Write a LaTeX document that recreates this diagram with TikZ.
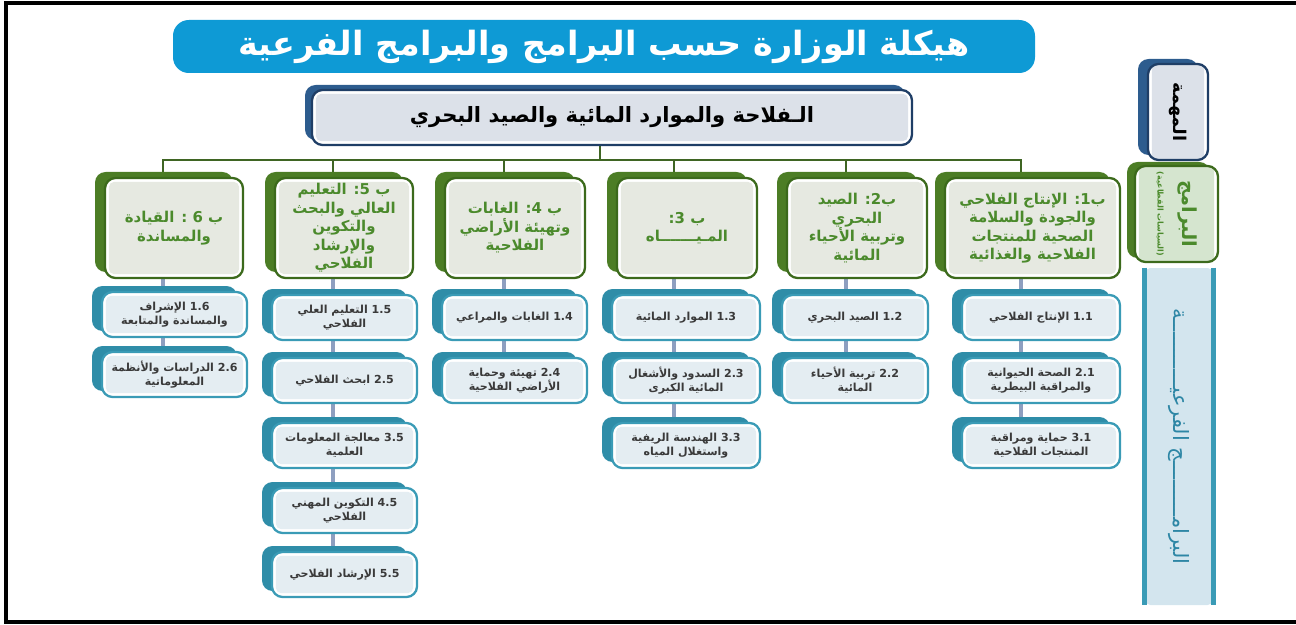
\documentclass[tikz,border=0pt]{standalone}
\usepackage{fontspec}
\newfontfamily\arabicfont[Script=Arabic]{DejaVu Sans}
\TeXXeTstate=1
\usetikzlibrary{calc,backgrounds}
\newcommand\ar[1]{\beginR #1\endR}
\newcommand\nm[1]{\beginL #1\endL{}}
\definecolor{titleblue}{HTML}{0E9AD5}
\definecolor{navy}{HTML}{1F3E66}
\definecolor{navyback}{HTML}{2D5C8E}
\definecolor{mainfill}{HTML}{DCE1E9}
\definecolor{gborder}{HTML}{3C6A1C}
\definecolor{gback}{HTML}{4C7D25}
\definecolor{gfill}{HTML}{E6E9E1}
\definecolor{gtext}{HTML}{4B8A2C}
\definecolor{tborder}{HTML}{3A9BB6}
\definecolor{tback}{HTML}{2F8DA8}
\definecolor{tfill}{HTML}{E4EDF2}
\definecolor{ttext}{HTML}{3A3A3A}
\definecolor{slinec}{HTML}{8E9FC0}
\definecolor{glinec}{HTML}{3F6523}
\definecolor{tallfill}{HTML}{D3E5EE}
\definecolor{rgfill}{HTML}{D5E5CF}
\definecolor{talltext}{HTML}{2D86A5}
\tikzset{
  framed/.style n args={3}{draw=#1, fill=white, line width=1.3pt, rounded corners=6pt, align=center,
    inner sep=0pt, outer sep=0pt,
    path picture={\fill[#2, rounded corners=3pt] ([shift={(2.2pt,2.2pt)}]path picture bounding box.south west) rectangle ([shift={(-2.2pt,-2.2pt)}]path picture bounding box.north east);},
    text=#3},
  progbox/.style={framed={gborder}{gfill}{gtext}, font=\arabicfont\bfseries\fontsize{8.5}{10.5}\selectfont},
  progback/.style={fill=gback, rounded corners=6pt, shift={(-10,-6)}},
  subbox/.style={framed={tborder}{tfill}{ttext}, font=\arabicfont\bfseries\fontsize{6.3}{8}\selectfont},
  subback/.style={fill=tback, rounded corners=6pt, shift={(-10,-6)}},
  mainbox/.style={framed={navy}{mainfill}{black}, font=\arabicfont\bfseries\fontsize{12}{14}\selectfont},
  mainback/.style={fill=navyback, rounded corners=6pt, shift={(-7,-5)}},
  gconn/.style={draw=glinec, line width=1.2pt},
  sconn/.style={draw=slinec, line width=2.4pt},
}
\newcommand\bx[8]{%
  \fill[#2] (#4,#5) rectangle (#6,#7);
  \node[#1, minimum width={(#6-#4)*0.02cm}, minimum height={(#7-#5)*0.02cm}] (#3) at ({(#4+#6)/2},{(#5+#7)/2}) {#8};}
\begin{document}
\begin{tikzpicture}[x=0.02cm,y=-0.02cm]
\useasboundingbox (0,0) rectangle (1296,625);
% frame
\draw[line width=2pt] (1296,3) -- (6,3) -- (6,622) -- (1296,622);
% title
\node[fill=titleblue, rounded corners=9pt, text=white, minimum width={862*0.02cm}, minimum height={53*0.02cm},
  font=\arabicfont\bfseries\fontsize{19}{22}\selectfont] (title) at (604,46.5) {\ar{هيكلة الوزارة حسب البرامج والبرامج الفرعية}};
% main
\bx{mainbox}{mainback}{main}{312}{90}{912}{145}{\ar{الـفلاحة والموارد المائية والصيد البحري}}
% programs
\bx{progbox}{progback}{b1}{945}{178}{1120}{278}{\ar{ب1: الإنتاج الفلاحي}\\\ar{والجودة والسلامة}\\\ar{الصحية للمنتجات}\\\ar{الفلاحية والغذائية}}
\bx{progbox}{progback}{b2}{787}{178}{927}{278}{\ar{ب2: الصيد}\\\ar{البحري}\\\ar{وتربية الأحياء}\\\ar{المائية}}
\bx{progbox}{progback}{b3}{617}{178}{757}{278}{\ar{ب 3:}\\\ar{المـيـــــــاه}}
\bx{progbox}{progback}{b4}{445}{178}{585}{278}{\ar{ب 4: الغابات}\\\ar{وتهيئة الأراضي}\\\ar{الفلاحية}}
\bx{progbox}{progback}{b5}{275}{178}{413}{278}{\ar{ب 5: التعليم}\\\ar{العالي والبحث}\\\ar{والتكوين}\\\ar{والإرشاد}\\\ar{الفلاحي}}
\bx{progbox}{progback}{b6}{105}{178}{243}{278}{\ar{ب 6 : القيادة}\\\ar{والمساندة}}
% sub programs B1
\bx{subbox}{subback}{s11}{962}{295}{1120}{340}{\ar{\nm{1.1} الإنتاج الفلاحي}}
\bx{subbox}{subback}{s12}{962}{358}{1120}{403}{\ar{\nm{2.1} الصحة الحيوانية}\\\ar{والمراقبة البيطرية}}
\bx{subbox}{subback}{s13}{962}{423}{1120}{468}{\ar{\nm{3.1} حماية ومراقبة}\\\ar{المنتجات الفلاحية}}
% B2
\bx{subbox}{subback}{s21}{782}{295}{928}{340}{\ar{\nm{1.2} الصيد البحري}}
\bx{subbox}{subback}{s22}{782}{358}{928}{403}{\ar{\nm{2.2} تربية الأحياء}\\\ar{المائية}}
% B3
\bx{subbox}{subback}{s31}{612}{295}{760}{340}{\ar{\nm{1.3} الموارد المائية}}
\bx{subbox}{subback}{s32}{612}{358}{760}{403}{\ar{\nm{2.3} السدود والأشغال}\\\ar{المائية الكبرى}}
\bx{subbox}{subback}{s33}{612}{423}{760}{468}{\ar{\nm{3.3} الهندسة الريفية}\\\ar{واستغلال المياه}}
% B4
\bx{subbox}{subback}{s41}{442}{295}{587}{340}{\ar{\nm{1.4} الغابات والمراعي}}
\bx{subbox}{subback}{s42}{442}{358}{587}{403}{\ar{\nm{2.4} تهيئة وحماية}\\\ar{الأراضي الفلاحية}}
% B5
\bx{subbox}{subback}{s51}{272}{295}{417}{340}{\ar{\nm{1.5} التعليم العلي}\\\ar{الفلاحي}}
\bx{subbox}{subback}{s52}{272}{358}{417}{403}{\ar{\nm{2.5} ابحث الفلاحي}}
\bx{subbox}{subback}{s53}{272}{423}{417}{468}{\ar{\nm{3.5} معالجة المعلومات}\\\ar{العلمية}}
\bx{subbox}{subback}{s54}{272}{488}{417}{533}{\ar{\nm{4.5} التكوين المهني}\\\ar{الفلاحي}}
\bx{subbox}{subback}{s55}{272}{552}{417}{597}{\ar{\nm{5.5} الإرشاد الفلاحي}}
% B6
\bx{subbox}{subback}{s61}{102}{292}{247}{337}{\ar{\nm{1.6} الإشراف}\\\ar{والمساندة والمتابعة}}
\bx{subbox}{subback}{s62}{102}{352}{247}{397}{\ar{\nm{2.6} الدراسات والأنظمة}\\\ar{المعلوماتية}}
% right column labels
\fill[navyback, rounded corners=6pt, shift={(-10,-5)}] (1148,64) rectangle (1208,160);
\node[framed={navy}{mainfill}{black}, rotate=-90, minimum width={96*0.02cm}, minimum height={60*0.02cm},
  font=\arabicfont\bfseries\fontsize{10}{12}\selectfont] (mission) at (1178,112) {\ar{المهمة}};
\fill[gback, rounded corners=6pt, shift={(-8,-4)}] (1135,166) rectangle (1218,262);
\node[framed={gborder}{rgfill}{gtext}, rotate=-90, minimum width={96*0.02cm}, minimum height={83*0.02cm},
  font=\arabicfont\bfseries] (progs) at (1176.5,214) {{\fontsize{11}{13}\selectfont\ar{البرامج}}\\[2pt]{\fontsize{4.5}{6}\selectfont\ar{(السياسات القطاعية)}}};
\node[fill=tallfill, rounded corners=3pt, rotate=-90, minimum width={337*0.02cm}, minimum height={68*0.02cm},
  inner sep=0pt, text=talltext, font=\arabicfont\fontsize{12}{14}\selectfont] (subs) at (1179,436.5) {\ar{البرامـــــــــج الفرعيـــــــــــة}};
\draw[tborder, line width=3pt] (subs.north west) -- (subs.north east);
\draw[tborder, line width=3pt] (subs.south west) -- (subs.south east);
% connectors
\begin{scope}[on background layer]
\coordinate (hub) at (600,160);
\coordinate (d1) at (1021,172);
\coordinate (d2) at (846,172);
\coordinate (d3) at (674,172);
\coordinate (d4) at (504,172);
\coordinate (d5) at (333,172);
\coordinate (d6) at (163,172);
\draw[gconn] (main.south -| hub) -- (hub);
\draw[gconn] (d6) -- (d6 |- hub) -- (d1 |- hub) -- (d1);
\foreach \d in {d2,d3,d4,d5} \draw[gconn] (\d |- hub) -- (\d);
\draw[sconn] (b1.south -| d1) -- (s11.north -| d1);
\draw[sconn] (s11.south -| d1) -- (s12.north -| d1);
\draw[sconn] (s12.south -| d1) -- (s13.north -| d1);
\draw[sconn] (b2.south -| d2) -- (s21.north -| d2);
\draw[sconn] (s21.south -| d2) -- (s22.north -| d2);
\draw[sconn] (b3.south -| d3) -- (s31.north -| d3);
\draw[sconn] (s31.south -| d3) -- (s32.north -| d3);
\draw[sconn] (s32.south -| d3) -- (s33.north -| d3);
\draw[sconn] (b4.south -| d4) -- (s41.north -| d4);
\draw[sconn] (s41.south -| d4) -- (s42.north -| d4);
\draw[sconn] (b5.south -| d5) -- (s51.north -| d5);
\draw[sconn] (s51.south -| d5) -- (s52.north -| d5);
\draw[sconn] (s52.south -| d5) -- (s53.north -| d5);
\draw[sconn] (s53.south -| d5) -- (s54.north -| d5);
\draw[sconn] (s54.south -| d5) -- (s55.north -| d5);
\draw[sconn] (b6.south -| d6) -- (s61.north -| d6);
\draw[sconn] (s61.south -| d6) -- (s62.north -| d6);
\end{scope}
\end{tikzpicture}
\end{document}
